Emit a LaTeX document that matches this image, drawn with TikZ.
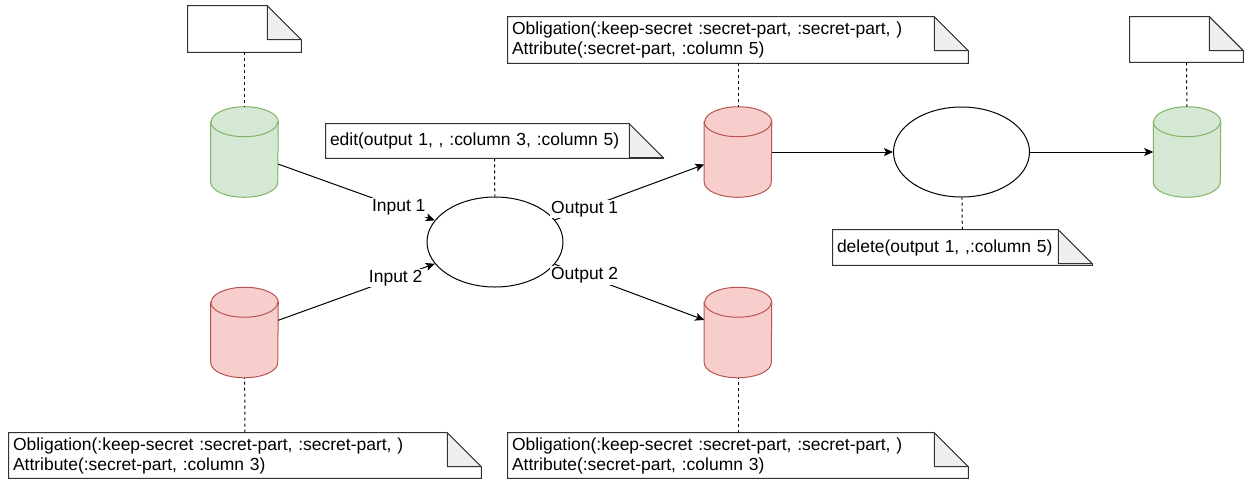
\documentclass[tikz,border=0pt]{standalone}
\usepackage{fontspec}
\setmainfont{Liberation Sans}
\usetikzlibrary{shapes.geometric, arrows.meta, positioning}

\definecolor{greenfill}{HTML}{D5E8D4}
\definecolor{greenline}{HTML}{82B366}
\definecolor{redfill}{HTML}{F8CECC}
\definecolor{redline}{HTML}{B85450}
\definecolor{foldgray}{HTML}{EFEFEF}
\definecolor{noteline}{HTML}{333333}

\begin{document}
\begin{tikzpicture}[
    x=0.75pt, y=0.75pt,
    font=\fontsize{13.1}{15}\selectfont,
    db/.style={rectangle, minimum width=50.25pt, minimum height=67.5pt, inner sep=0pt},
    op/.style={ellipse, draw, line width=0.75pt, minimum width=102pt, minimum height=67.5pt, inner sep=0pt},
    note/.style={rectangle, inner xsep=3pt, inner ysep=0pt, align=left},
    link/.style={dashed, dash pattern=on 2.25pt off 2.25pt, line width=0.75pt},
    arrow/.style={-{Stealth[length=6.75pt, width=6pt, inset=1.5pt]}, line width=0.75pt},
    lbl/.style={fill=white, inner sep=1pt}
]
\useasboundingbox (0,0) rectangle (1245,-480);

% data stores
\node[db] (in1) at (244.5,-152) {};
\node[db] (in2) at (244.5,-332.5) {};
\node[db] (out1) at (738,-152) {};
\node[db] (out2) at (738,-332.5) {};
\node[db] (final) at (1187,-152) {};

% cylinder bodies
\foreach \n/\c in {in1/green, in2/red, out1/red, out2/red, final/green} {
    \draw[draw=\c line, fill=\c fill, line width=0.75pt]
        ([yshift=-11.25pt]\n.north west) -- ([yshift=11.25pt]\n.south west)
        arc[start angle=180, end angle=360, x radius=25.125pt, y radius=11.25pt]
        -- ([yshift=-11.25pt]\n.north east)
        arc[start angle=0, end angle=180, x radius=25.125pt, y radius=11.25pt] -- cycle;
    \draw[draw=\c line, line width=0.75pt] ([yshift=-11.25pt]\n.north west)
        arc[start angle=180, end angle=360, x radius=25.125pt, y radius=11.25pt];
}

% operations
\node[op] (edit) at (495,-242) {};
\node[op] (del) at (961.5,-152) {};

% notes
\node[note, text width=78.75pt, minimum height=34.5pt] (srcnote) at (244.5,-29) {};
\node[note, text width=78.75pt, minimum height=33.75pt] (dstnote) at (1186.5,-39.5) {};
\node[note, text width=339pt, minimum height=34.5pt] (obl1) at (738,-40)
    {Obligation(:keep-secret :secret-part, :secret-part, )\\Attribute(:secret-part, :column 5)};
\node[note, text width=348pt, minimum height=33.75pt] (obl0) at (245,-455.5)
    {Obligation(:keep-secret :secret-part, :secret-part, )\\Attribute(:secret-part, :column 3)};
\node[note, text width=339pt, minimum height=33.75pt] (obl2) at (738,-455.5)
    {Obligation(:keep-secret :secret-part, :secret-part, )\\Attribute(:secret-part, :column 3)};
\node[note, text width=246.75pt, minimum height=25.5pt] (editnote) at (494.5,-141)
    {edit(output 1, , :column 3, :column 5)};
\node[note, text width=188.25pt, minimum height=26.25pt] (delnote) at (962.5,-247.5)
    {delete(output 1, ,:column 5)};

% note outlines with folded corner
\foreach \n in {srcnote, dstnote, obl1, obl0, obl2, editnote, delnote} {
    \draw[noteline, line width=0.75pt] (\n.north west) -- ([xshift=-25.5pt]\n.north east)
        -- ([yshift=-25.5pt]\n.north east) -- (\n.south east) -- (\n.south west) -- cycle;
    \draw[noteline, line width=0.75pt, fill=foldgray] ([xshift=-25.5pt]\n.north east)
        -- ([xshift=-25.5pt, yshift=-25.5pt]\n.north east) -- ([yshift=-25.5pt]\n.north east) -- cycle;
}

% annotations
\draw[link] (srcnote) -- (in1);
\draw[link] (obl0) -- (in2);
\draw[link] (editnote) -- (edit);
\draw[link] (obl1) -- (out1);
\draw[link] (obl2) -- (out2);
\draw[link] (delnote) -- (del);
\draw[link] (dstnote) -- (final);

% flow
\draw[arrow] (in1) -- node[lbl, pos=0.77] {Input 1} (edit);
\draw[arrow] (in2) -- node[lbl, pos=0.75] {Input 2} (edit);
\draw[arrow] (edit) -- node[lbl, pos=0.2] {Output 1} (out1);
\draw[arrow] (edit) -- node[lbl, pos=0.2] {Output 2} (out2);
\draw[arrow] (out1) -- (del);
\draw[arrow] (del) -- (final);

\end{tikzpicture}
\end{document}
